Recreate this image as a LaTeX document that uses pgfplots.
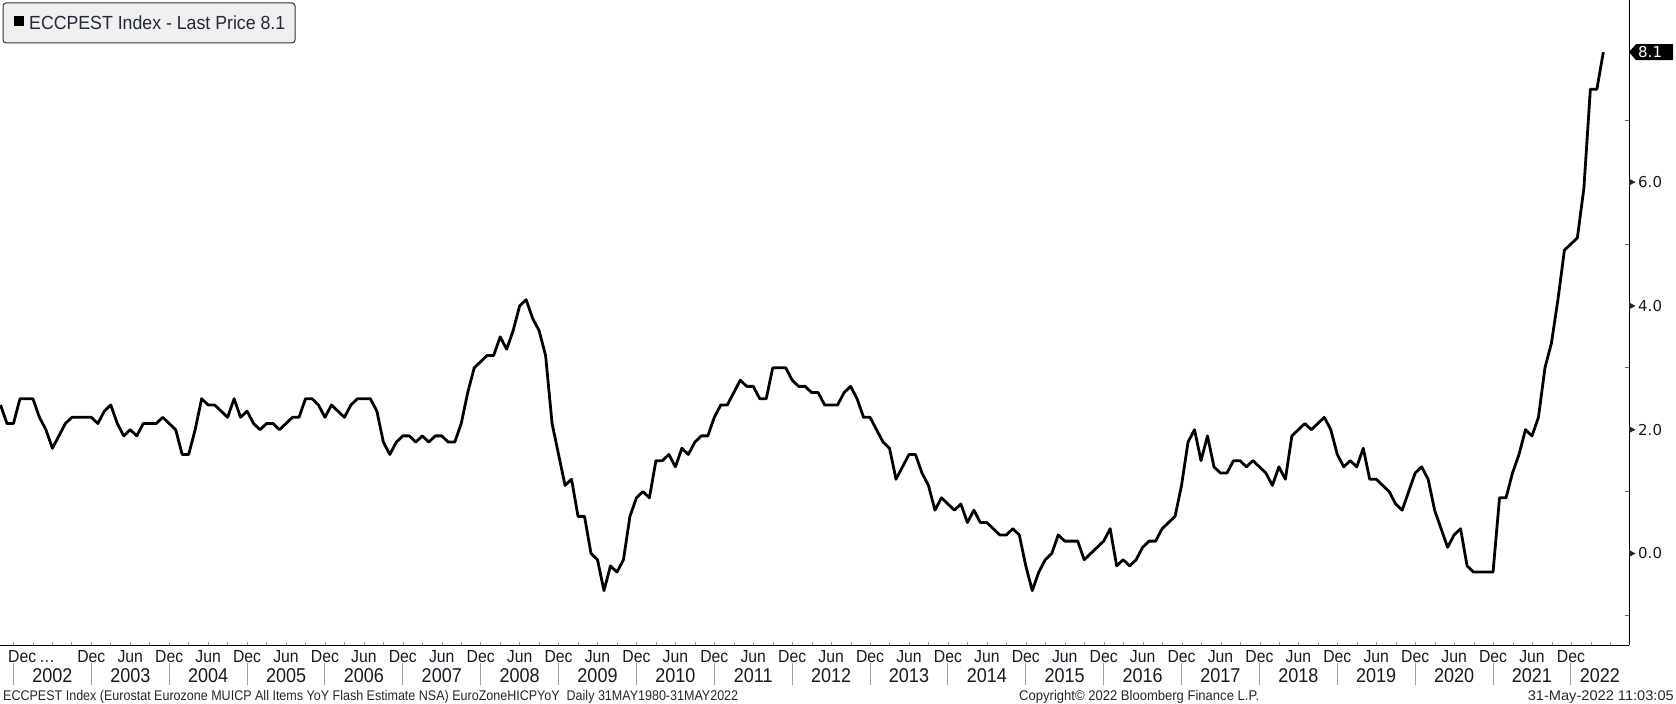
\documentclass[border=0pt]{standalone}
\usepackage{pgfplots}
\usepackage{pgfplotstable}
\pgfplotsset{compat=1.18}
\usepackage{fontspec}
\setmainfont{Liberation Sans}
\newfontfamily\cond[FakeStretch=0.9]{Liberation Sans}
\newfontfamily\dv{DejaVu Sans}
\definecolor{legtext}{RGB}{35,40,60}
\definecolor{legfill}{RGB}{240,240,240}
\definecolor{labc}{RGB}{25,25,35}

\pgfplotstableread{
yr mo v
2001 10 2.4
2001 11 2.1
2001 12 2.1
2002 1 2.5
2002 2 2.5
2002 3 2.5
2002 4 2.2
2002 5 2.0
2002 6 1.7
2002 7 1.9
2002 8 2.1
2002 9 2.2
2002 10 2.2
2002 11 2.2
2002 12 2.2
2003 1 2.1
2003 2 2.3
2003 3 2.4
2003 4 2.1
2003 5 1.9
2003 6 2.0
2003 7 1.9
2003 8 2.1
2003 9 2.1
2003 10 2.1
2003 11 2.2
2003 12 2.1
2004 1 2.0
2004 2 1.6
2004 3 1.6
2004 4 2.0
2004 5 2.5
2004 6 2.4
2004 7 2.4
2004 8 2.3
2004 9 2.2
2004 10 2.5
2004 11 2.2
2004 12 2.3
2005 1 2.1
2005 2 2.0
2005 3 2.1
2005 4 2.1
2005 5 2.0
2005 6 2.1
2005 7 2.2
2005 8 2.2
2005 9 2.5
2005 10 2.5
2005 11 2.4
2005 12 2.2
2006 1 2.4
2006 2 2.3
2006 3 2.2
2006 4 2.4
2006 5 2.5
2006 6 2.5
2006 7 2.5
2006 8 2.3
2006 9 1.8
2006 10 1.6
2006 11 1.8
2006 12 1.9
2007 1 1.9
2007 2 1.8
2007 3 1.9
2007 4 1.8
2007 5 1.9
2007 6 1.9
2007 7 1.8
2007 8 1.8
2007 9 2.1
2007 10 2.6
2007 11 3.0
2007 12 3.1
2008 1 3.2
2008 2 3.2
2008 3 3.5
2008 4 3.3
2008 5 3.6
2008 6 4.0
2008 7 4.1
2008 8 3.8
2008 9 3.6
2008 10 3.2
2008 11 2.1
2008 12 1.6
2009 1 1.1
2009 2 1.2
2009 3 0.6
2009 4 0.6
2009 5 0.0
2009 6 -0.1
2009 7 -0.6
2009 8 -0.2
2009 9 -0.3
2009 10 -0.1
2009 11 0.6
2009 12 0.9
2010 1 1.0
2010 2 0.9
2010 3 1.5
2010 4 1.5
2010 5 1.6
2010 6 1.4
2010 7 1.7
2010 8 1.6
2010 9 1.8
2010 10 1.9
2010 11 1.9
2010 12 2.2
2011 1 2.4
2011 2 2.4
2011 3 2.6
2011 4 2.8
2011 5 2.7
2011 6 2.7
2011 7 2.5
2011 8 2.5
2011 9 3.0
2011 10 3.0
2011 11 3.0
2011 12 2.8
2012 1 2.7
2012 2 2.7
2012 3 2.6
2012 4 2.6
2012 5 2.4
2012 6 2.4
2012 7 2.4
2012 8 2.6
2012 9 2.7
2012 10 2.5
2012 11 2.2
2012 12 2.2
2013 1 2.0
2013 2 1.8
2013 3 1.7
2013 4 1.2
2013 5 1.4
2013 6 1.6
2013 7 1.6
2013 8 1.3
2013 9 1.1
2013 10 0.7
2013 11 0.9
2013 12 0.8
2014 1 0.7
2014 2 0.8
2014 3 0.5
2014 4 0.7
2014 5 0.5
2014 6 0.5
2014 7 0.4
2014 8 0.3
2014 9 0.3
2014 10 0.4
2014 11 0.3
2014 12 -0.2
2015 1 -0.6
2015 2 -0.3
2015 3 -0.1
2015 4 0.0
2015 5 0.3
2015 6 0.2
2015 7 0.2
2015 8 0.2
2015 9 -0.1
2015 10 0.0
2015 11 0.1
2015 12 0.2
2016 1 0.4
2016 2 -0.2
2016 3 -0.1
2016 4 -0.2
2016 5 -0.1
2016 6 0.1
2016 7 0.2
2016 8 0.2
2016 9 0.4
2016 10 0.5
2016 11 0.6
2016 12 1.1
2017 1 1.8
2017 2 2.0
2017 3 1.5
2017 4 1.9
2017 5 1.4
2017 6 1.3
2017 7 1.3
2017 8 1.5
2017 9 1.5
2017 10 1.4
2017 11 1.5
2017 12 1.4
2018 1 1.3
2018 2 1.1
2018 3 1.4
2018 4 1.2
2018 5 1.9
2018 6 2.0
2018 7 2.1
2018 8 2.0
2018 9 2.1
2018 10 2.2
2018 11 2.0
2018 12 1.6
2019 1 1.4
2019 2 1.5
2019 3 1.4
2019 4 1.7
2019 5 1.2
2019 6 1.2
2019 7 1.1
2019 8 1.0
2019 9 0.8
2019 10 0.7
2019 11 1.0
2019 12 1.3
2020 1 1.4
2020 2 1.2
2020 3 0.7
2020 4 0.4
2020 5 0.1
2020 6 0.3
2020 7 0.4
2020 8 -0.2
2020 9 -0.3
2020 10 -0.3
2020 11 -0.3
2020 12 -0.3
2021 1 0.9
2021 2 0.9
2021 3 1.3
2021 4 1.6
2021 5 2.0
2021 6 1.9
2021 7 2.2
2021 8 3.0
2021 9 3.4
2021 10 4.1
2021 11 4.9
2021 12 5.0
2022 1 5.1
2022 2 5.9
2022 3 7.5
2022 4 7.5
2022 5 8.1
}\cpi

\def\XMIN{2001.827}
\def\XMAX{2022.746}
\def\YMIN{-1.478}
\def\YMAX{8.942}

\begin{document}
\begin{tikzpicture}
\begin{axis}[
  at={(0bp,59bp)}, anchor=south west,
  scale only axis, width=1629bp, height=645bp,
  xmin=\XMIN, xmax=\XMAX, ymin=\YMIN, ymax=\YMAX,
  axis x line*=bottom, axis y line*=right,
  axis line style={black, line width=1bp},
  xtick={2002,2002.25,...,2022.5},
  xticklabels={},
  tick align=inside,
  major tick length=3bp,
  minor tick length=4bp,
  major x tick style={gray!80, line width=0.8bp},
  major y tick style={draw=none},
  minor y tick style={gray!80!black, line width=0.8bp},
  ytick={0,2,4,6},
  minor ytick={-1,1,3,5,7},
  yticklabel pos=right,
  /pgf/number format/assume math mode=true,
  yticklabel={\pgfmathprintnumber[fixed,fixed zerofill,precision=1]{\tick}},
  yticklabel style={anchor=west, inner sep=0pt, xshift=9bp, font=\dv\fontsize{15bp}{18bp}\selectfont, text=labc},
  clip=false,
]
\addplot[black, line width=2.8bp, line join=round] table[x expr=\thisrow{yr}+\thisrow{mo}/12, y=v]{\cpi};

% right-pointing triangles for major y ticks
\pgfplotsinvokeforeach{0,2,4,6}{
  \fill[black!85] ([yshift=3.5bp]axis cs:\XMAX,#1) -- ++(6.5bp,-3.5bp) -- ++(-6.5bp,-3.5bp) -- cycle;
}
% last price box
\fill[black] (axis cs:\XMAX,8.1) -- ++(7bp,8bp) -- ++(37bp,0bp) -- ++(0bp,-16bp) -- ++(-37bp,0bp) -- cycle;
\node[text=white, font=\dv\fontsize{15bp}{18bp}\selectfont, anchor=west, inner sep=0pt] at ([xshift=9bp]axis cs:\XMAX,8.1) {8.1};

% month labels
\node[anchor=base west, inner sep=0pt, text=labc, font=\cond\fontsize{17.5bp}{20bp}\selectfont] at ([xshift=8bp,yshift=-17.7bp]rel axis cs:0,0) {Dec\,…};
\pgfplotsinvokeforeach{2003,...,2022}{
  \node[anchor=base, inner sep=0pt, text=labc, font=\cond\fontsize{17.5bp}{20bp}\selectfont] at ([yshift=-17.7bp]axis cs:#1,\YMIN) {Dec};
}
\pgfplotsinvokeforeach{2003,...,2021}{
  \node[anchor=base, inner sep=0pt, text=labc, font=\cond\fontsize{17.5bp}{20bp}\selectfont] at ([yshift=-17.7bp]axis cs:#1.5,\YMIN) {Jun};
}
% year labels
\pgfplotsinvokeforeach{2002,...,2021}{
  \node[anchor=base, inner sep=0pt, text=labc, font=\cond\fontsize{20bp}{22bp}\selectfont] at ([yshift=-37.7bp]axis cs:#1.5,\YMIN) {#1};
}
\node[anchor=base, inner sep=0pt, text=labc, font=\cond\fontsize{20bp}{22bp}\selectfont] at ([yshift=-37.7bp]axis cs:2022.373,\YMIN) {2022};
\pgfplotsinvokeforeach{2002,...,2022}{
  \draw[gray!75, line width=1bp] ([yshift=-18.3bp]axis cs:#1,\YMIN) -- ++(0bp,-22bp);
}
\end{axis}

% legend
\draw[draw=black!80, fill=legfill, rounded corners=3bp, line width=1bp] (3bp,661bp) rectangle (295bp,701bp);
\fill[black] (14bp,678.4bp) rectangle (23.5bp,688bp);
\node[anchor=west, inner sep=0pt, text=legtext] at (29bp,681.5bp) {\resizebox{256bp}{\height}{\fontsize{19bp}{22bp}\selectfont ECCPEST Index - Last Price 8.1}};

% footer
\node[anchor=base west, inner sep=0pt, text=black!85] at (3bp,3.5bp) {\resizebox{735bp}{\height}{\fontsize{14bp}{16bp}\selectfont ECCPEST Index (Eurostat Eurozone MUICP All Items YoY Flash Estimate NSA) EuroZoneHICPYoY\ \ Daily 31MAY1980-31MAY2022}};
\node[anchor=base west, inner sep=0pt, text=black!85] at (1019bp,3.5bp) {\resizebox{240bp}{\height}{\fontsize{14bp}{16bp}\selectfont Copyright© 2022 Bloomberg Finance L.P.}};
\node[anchor=base east, inner sep=0pt, text=black!85] at (1674bp,3.5bp) {\resizebox{146bp}{\height}{\fontsize{14bp}{16bp}\selectfont 31-May-2022 11:03:05}};

\pgfresetboundingbox
\useasboundingbox (0bp,0bp) rectangle (1676bp,704bp);
\end{tikzpicture}
\end{document}
